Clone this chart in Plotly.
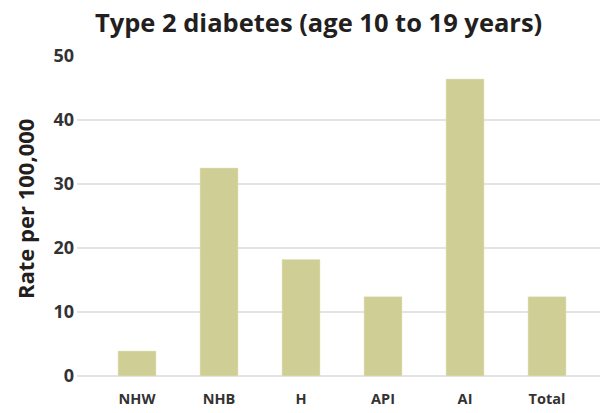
import plotly.graph_objects as go

# Type 2 diabetes incidence, age 10 to 19 years
groups = ["NHW", "NHB", "H", "API", "AI", "Total"]
rates = [3.9, 32.5, 18.2, 12.4, 46.4, 12.4]
y_ticks = [0, 10, 20, 30, 40, 50]

font_family = "Open Sans, Lato, sans-serif"

fig = go.Figure()
fig.add_trace(go.Bar(
    x=groups,
    y=rates,
    width=0.463,
    marker=dict(color="#cfce95", line=dict(color="#e6e5c4", width=0.5)),
))

fig.update_layout(
    width=600,
    height=413,
    margin=dict(l=77, r=0, t=56, b=37),
    paper_bgcolor="white",
    plot_bgcolor="white",
    showlegend=False,
    font=dict(family=font_family, color="#333333"),
    title=dict(
        text="<b>Type 2 diabetes (age 10 to 19 years)</b>",
        x=0.531, xanchor="center",
        y=0.9443, yanchor="middle",
        font=dict(size=25.5, color="#231f20"),
    ),
)
# y-axis title, placed by hand so it sits a bit above the plot centre
fig.add_annotation(
    text="<b>Rate per 100,000</b>",
    xref="paper", yref="paper",
    x=-0.1004, y=0.5234,
    xanchor="center", yanchor="middle",
    textangle=-90, showarrow=False,
    font=dict(size=22, color="#231f20"),
)
fig.update_xaxes(
    range=[-0.732, 5.646],
    tickfont=dict(size=14.5, color="#333333", weight="bold"),
    showgrid=False, showline=False, ticks="",
    ticklabelstandoff=12,
)
fig.update_yaxes(
    range=[0, 50],
    tickvals=y_ticks,
    tickfont=dict(size=18, color="#333333", weight="bold"),
    showgrid=True, gridcolor="#e3e3e3", gridwidth=2,
    zeroline=True, zerolinecolor="#e3e3e3", zerolinewidth=2,
    showline=False, ticks="",
    ticklabelstandoff=2,
)

# drop the default page margin so the figure fills the window exactly
fig.write_html(
    "out.html",
    config={"displayModeBar": False},
    post_script="document.body.style.margin = '0';",
)
